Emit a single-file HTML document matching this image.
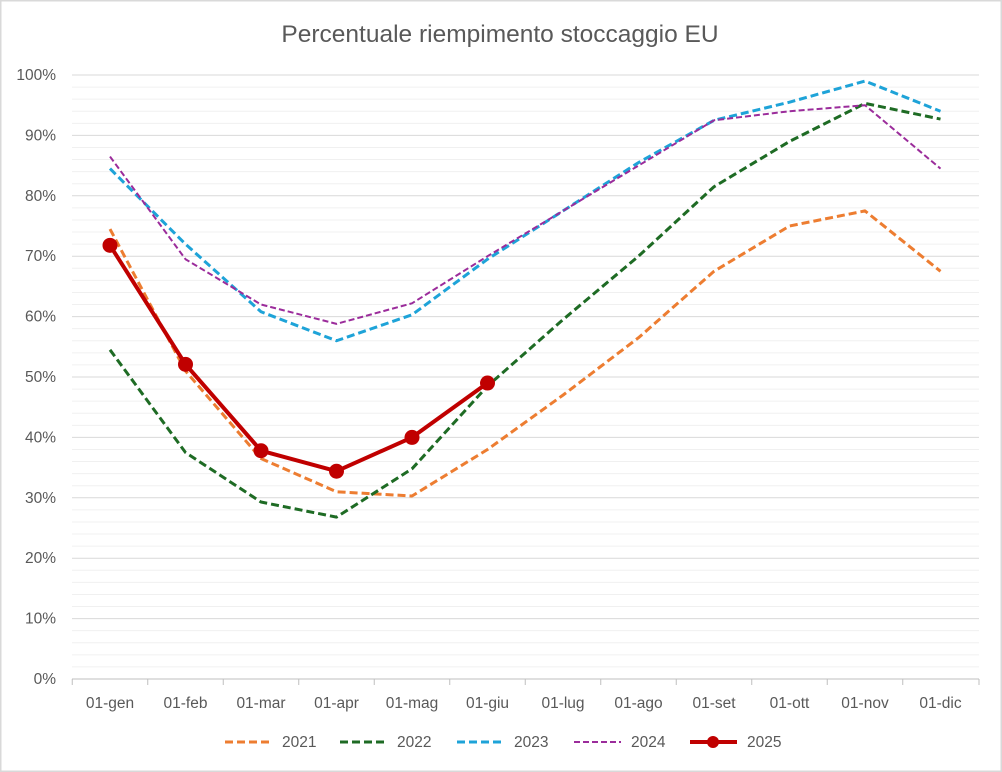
<!DOCTYPE html>
<html><head><meta charset="utf-8"><style>body{margin:0;background:#fff}svg{display:block}</style></head>
<body>
<svg width="1002" height="772" xmlns="http://www.w3.org/2000/svg" font-family="Liberation Sans, sans-serif">
<rect x="0.5" y="0.5" width="1001" height="771" fill="#fff" stroke="#d9d9d9" stroke-width="2"/>
<text x="500" y="42" text-anchor="middle" font-size="24.5" fill="#595959">Percentuale riempimento stoccaggio EU</text>
<g id="grid"></g>
<g font-size="15.5" fill="#595959" text-anchor="end" id="yl"></g>
<g font-size="15.5" fill="#595959" text-anchor="middle" id="xl"></g>
<g id="series"></g>
<g font-size="15.5" fill="#595959">
<line x1="225" y1="742" x2="272" y2="742" stroke="#ed7d31" stroke-width="3" stroke-dasharray="8,4"/><text x="282" y="747">2021</text>
<line x1="340" y1="742" x2="387" y2="742" stroke="#1e6b24" stroke-width="3" stroke-dasharray="8,4"/><text x="397" y="747">2022</text>
<line x1="457" y1="742" x2="504" y2="742" stroke="#1ea3d8" stroke-width="3" stroke-dasharray="8,4"/><text x="514" y="747">2023</text>
<line x1="574" y1="742" x2="621" y2="742" stroke="#9b2c9b" stroke-width="2" stroke-dasharray="6,3"/><text x="631" y="747">2024</text>
<line x1="690" y1="742" x2="737" y2="742" stroke="#c00000" stroke-width="4"/><circle cx="713" cy="742" r="6" fill="#c00000"/><text x="747" y="747">2025</text>
</g>
<script>
const ns="http://www.w3.org/2000/svg";
function el(p,t,a,tx){const e=document.createElementNS(ns,t);for(const k in a)e.setAttribute(k,a[k]);if(tx)e.textContent=tx;document.getElementById(p).appendChild(e);}
const Y=v=>679-v*6.04, X=i=>110+i*75.5;
for(let v=0;v<=100;v+=2){const maj=v%10==0;el("grid","line",{x1:72,x2:979,y1:Y(v),y2:Y(v),stroke:maj?"#d9d9d9":"#f0f0f0","stroke-width":1});}
for(let v=0;v<=100;v+=10)el("yl","text",{x:56,y:Y(v)+5},v+"%");
el("grid","line",{x1:72,x2:979,y1:679,y2:679,stroke:"#bfbfbf"});
const m=["gen","feb","mar","apr","mag","giu","lug","ago","set","ott","nov","dic"];
m.forEach((s,i)=>{el("xl","text",{x:X(i),y:708},"01-"+s);el("grid","line",{x1:X(i)-37.75,x2:X(i)-37.75,y1:679,y2:685,stroke:"#bfbfbf"});});
el("grid","line",{x1:979,x2:979,y1:679,y2:685,stroke:"#bfbfbf"});
const S=[
["#ed7d31",3,"8,4",[74.5,51,36.5,31,30.3,38,47,56.5,67.5,75,77.5,67.5]],
["#1e6b24",3,"8,4",[54.5,37.5,29.3,26.8,34.8,48.5,59.5,70,81.5,89,95.3,92.7]],
["#1ea3d8",3,"8,4",[84.5,72,60.8,56,60.3,69.5,77.5,85.5,92.5,95.5,99,94]],
["#9b2c9b",2,"6,3",[86.5,69.5,62,58.8,62.2,70,77.5,85,92.5,94,95,84.5]],
["#c00000",4,"",[71.8,52.1,37.8,34.4,40,49]]];
S.forEach(([c,w,d,v])=>{el("series","polyline",{points:v.map((y,i)=>X(i)+","+Y(y)).join(" "),fill:"none",stroke:c,"stroke-width":w,"stroke-dasharray":d,"stroke-linejoin":"round"});});
S[4][3].forEach((y,i)=>el("series","circle",{cx:X(i),cy:Y(y),r:7.5,fill:"#c00000"}));
</script>
</svg>
</body></html>
